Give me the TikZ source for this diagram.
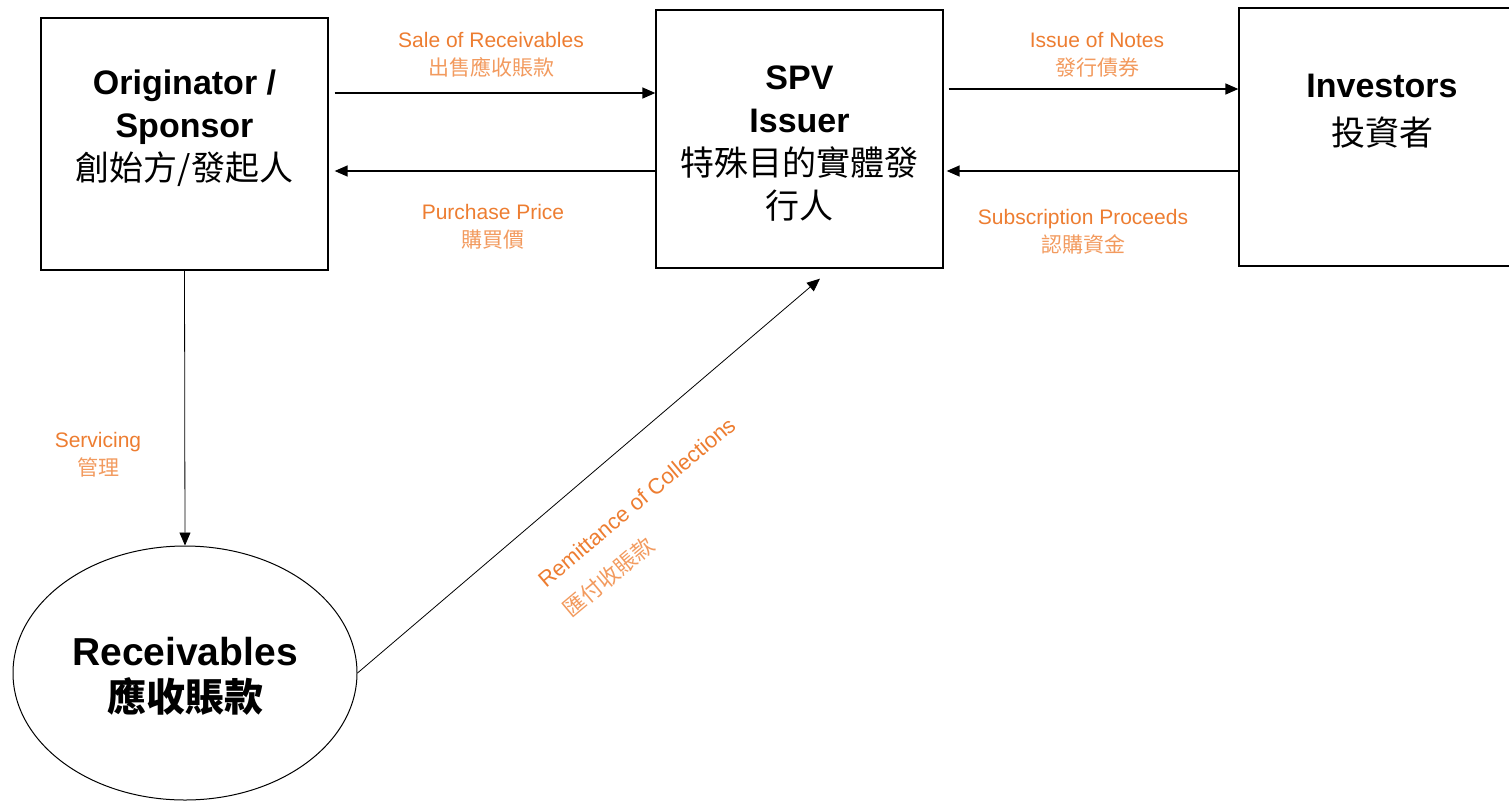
\documentclass[tikz,border=0pt]{standalone}
\usepackage{fontspec}
\setmainfont{Liberation Sans}
\newfontfamily\cjk{Noto Sans CJK TC}
\usetikzlibrary{arrows.meta,shapes.geometric,calc}
\definecolor{lorange}{HTML}{ED7D31}
\definecolor{corange}{HTML}{F29A5E}
\begin{document}
\begin{tikzpicture}[x=1pt,y=-1pt,
  box/.style={draw, line width=1.3pt, inner sep=0pt},
  title/.style={font=\fontsize{34}{43}\selectfont\bfseries, align=center},
  lbl/.style={text=lorange, font=\fontsize{21}{28}\selectfont, align=center},
  arr/.style={line width=1.4pt, -{Triangle[length=13pt,width=11pt]}},
  thinarr/.style={line width=0.8pt, -{Triangle[length=13pt,width=11pt]}}]
\useasboundingbox (0,0) rectangle (1509,801);
% boxes
\node[box, minimum width=287pt, minimum height=252pt] (orig) at (184.5,144) {};
\node[box, minimum width=287pt, minimum height=258pt] (spv) at (799.5,139) {};
\node[box, minimum width=286pt, minimum height=258pt] (inv) at (1382,137) {};
\node[draw, ellipse, line width=1pt, minimum width=344pt, minimum height=254pt, inner sep=0pt] (recv) at (185,673) {};
% box texts
\node[title] (origtxt) at (184.5,128) {Originator /\\Sponsor\\{\mdseries\cjk 創始方/發起人}};
\node[title] (spvtxt) at (799.5,144) {SPV\\Issuer\\{\mdseries\cjk 特殊目的實體發}\\{\mdseries\cjk 行人}};
\node[title] (invtxt) at (1382,111) {Investors\\[5pt]{\mdseries\cjk 投資者}};
\node[font=\fontsize{39}{46}\selectfont\bfseries, align=center] (recvtxt) at (185,676) {Receivables\\{\cjk 應收賬款}};
% arrows
\draw[arr] ([xshift=6pt]orig.east |- 0,93) -- (spv.west |- 0,93);
\draw[arr] (spv.west |- 0,171) -- ([xshift=6pt]orig.east |- 0,171);
\draw[arr] ([xshift=5pt]spv.east |- 0,89) -- (inv.west |- 0,89);
\draw[arr] (inv.west |- 0,171) -- ([xshift=3pt]spv.east |- 0,171);
\draw[thinarr] (orig.south) -- (recv.north);
\coordinate (remitend) at ([shift={(20.5pt,-10pt)}]spv.south);
\draw[thinarr] (recv.east) -- (remitend);
% labels
\node[lbl] (salelbl) at (491,55) {Sale of Receivables\\{\cjk\color{corange}出售應收賬款}};
\node[lbl] (purchlbl) at (493,227) {Purchase Price\\{\cjk\color{corange}購買價}};
\node[lbl] (issuelbl) at (1097,55) {Issue of Notes\\{\cjk\color{corange}發行債券}};
\node[lbl] (subslbl) at (1083,232) {Subscription Proceeds\\{\cjk\color{corange}認購資金}};
\node[lbl] (servlbl) at (98,455) {Servicing\\{\cjk\color{corange}管理}};
\node[lbl, align=left, rotate=40, font=\fontsize{22}{40}\selectfont] (remitlbl) at (650,518) {Remittance of Collections\\{\cjk\color{corange}匯付收賬款}};
\end{tikzpicture}
\end{document}
